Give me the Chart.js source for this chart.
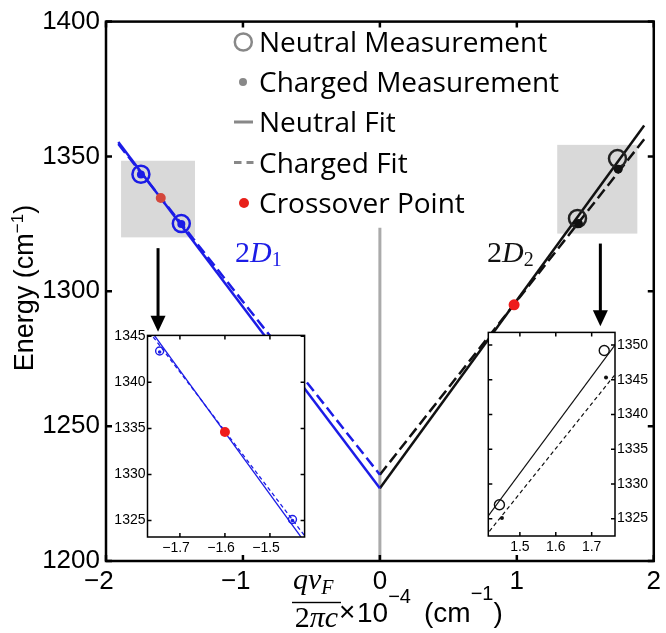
<!DOCTYPE html>
<html>
<head>
<meta charset="utf-8">
<script src="https://cdn.jsdelivr.net/npm/chart.js@4/dist/chart.umd.min.js"></script>
<style>
html, body { margin: 0; padding: 0; background: #fff; }
#wrap { position: relative; width: 666px; height: 633px; }
canvas { position: absolute; }
#mainChart { left: 0; top: 0; }
#insetLeft { left: 100px; top: 325px; }
#insetRight { left: 480px; top: 322px; }
</style>
</head>
<body>
<div id="wrap">
  <canvas id="mainChart" width="666" height="633"></canvas>
  <canvas id="insetLeft" width="210" height="240"></canvas>
  <canvas id="insetRight" width="186" height="240"></canvas>
</div>
<script>
// fit lines (end points), x in units of 1e-4 cm^-1, y in cm^-1
const neutralFitLeft = [{ x: -1.91, y: 1355.4 }, { x: 0, y: 1227 }];
const chargedFitLeft = [{ x: -1.91, y: 1354.6 }, { x: 0, y: 1232 }];
const neutralFitRight = [{ x: 0, y: 1227 }, { x: 1.93, y: 1361.5 }];
const chargedFitRight = [{ x: 0, y: 1232 }, { x: 1.94, y: 1357 }];

// measurements
const neutralMeasLeft = [{ x: -1.745, y: 1343.4 }, { x: -1.45, y: 1325.1 }];
const chargedMeasLeft = [{ x: -1.745, y: 1343.3 }, { x: -1.45, y: 1325.0 }];
const neutralMeasRight = [{ x: 1.443, y: 1327.0 }, { x: 1.735, y: 1349.2 }];
const chargedMeasRight = [{ x: 1.45, y: 1325.1 }, { x: 1.74, y: 1345.3 }];
const crossoverLeft = [{ x: -1.6, y: 1334.6 }];
const crossoverRight = [{ x: 0.98, y: 1295 }];

// annotations (data coordinates)
const zoomBoxes = [
    { x0: -1.89, x1: -1.35, y0: 1320, y1: 1348.4 },
    { x0: 1.295, x1: 1.88, y0: 1321.4, y1: 1354.3 }
];
const arrows = [
    { x: -1.62, y0: 1316, y1: 1285 },
    { x: 1.61, y0: 1317.7, y1: 1287 }
];
const zeroLine = { x: 0, y0: 1200, y1: 1323.6 };

// axes
const mainXRange = [-2, 2];
const mainYRange = [1200, 1400];
const mainXTicks = [-2, -1, 0, 1, 2];
const mainYTicks = [1200, 1250, 1300, 1350, 1400];
const leftInsetXRange = [-1.772, -1.423];
const leftInsetYRange = [1323.2, 1345.1];
const leftInsetXTicks = [-1.7, -1.6, -1.5];
const leftInsetYTicks = [1325, 1330, 1335, 1340, 1345];
const rightInsetXRange = [1.412, 1.765];
const rightInsetYRange = [1322.5, 1351.8];
const rightInsetXTicks = [1.5, 1.6, 1.7];
const rightInsetYTicks = [1325, 1330, 1335, 1340, 1345, 1350];

const legendLabels = ["Neutral Measurement", "Charged Measurement", "Neutral Fit", "Charged Fit", "Crossover Point"];

const BLUE = "#1c1ce6";
const BLACK = "#111";
const SANS = "Liberation Sans";
const SERIF = "Liberation Serif";

// MATLAB puts the minus sign to the left of a centred number
function minusLabel(v, digits) {
    const s = digits == null ? String(Math.abs(v)) : Math.abs(v).toFixed(digits);
    return v < 0 ? "\u2212" + s + "  " : s;
}

// box round the plot with inward ticks on all four sides
const boxPlugin = {
    id: "matlabBox",
    beforeDraw(chart, args, opts) {
        if (opts.fill) {
            const a = chart.chartArea;
            chart.ctx.save();
            chart.ctx.fillStyle = opts.fill;
            chart.ctx.fillRect(a.left, a.top, a.right - a.left, a.bottom - a.top);
            chart.ctx.restore();
        }
    },
    afterDraw(chart, args, opts) {
        const ctx = chart.ctx;
        const a = chart.chartArea;
        const len = opts.tickLen;
        ctx.save();
        ctx.strokeStyle = "#000";
        ctx.lineWidth = opts.lineWidth;
        ctx.beginPath();
        chart.scales.x.ticks.forEach(t => {
            const px = chart.scales.x.getPixelForValue(t.value);
            ctx.moveTo(px, a.bottom); ctx.lineTo(px, a.bottom - len);
            ctx.moveTo(px, a.top); ctx.lineTo(px, a.top + len);
        });
        chart.scales.y.ticks.forEach(t => {
            const py = chart.scales.y.getPixelForValue(t.value);
            ctx.moveTo(a.left, py); ctx.lineTo(a.left + len, py);
            ctx.moveTo(a.right, py); ctx.lineTo(a.right - len, py);
        });
        ctx.stroke();
        ctx.strokeRect(a.left, a.top, a.right - a.left, a.bottom - a.top);
        ctx.restore();
    }
};

function drawSegments(ctx, parts, x, y) {
    // parts: [text, font, dy]
    parts.forEach(p => {
        ctx.font = p[1];
        ctx.fillText(p[0], x, y + (p[2] || 0));
        x += ctx.measureText(p[0]).width;
    });
    return x;
}

function drawLegend(ctx) {
    const rows = [42, 82, 122, 162.5, 203];
    ctx.save();
    ctx.fillStyle = "#888";
    ctx.strokeStyle = "#888";
    ctx.lineWidth = 2.5;
    ctx.beginPath();
    ctx.arc(243.3, rows[0], 8.5, 0, Math.PI * 2);
    ctx.stroke();
    ctx.beginPath();
    ctx.arc(243, rows[1], 4, 0, Math.PI * 2);
    ctx.fill();
    ctx.lineWidth = 3;
    ctx.beginPath();
    ctx.moveTo(234, rows[2]); ctx.lineTo(253, rows[2]);
    ctx.moveTo(234, rows[3]); ctx.lineTo(241.5, rows[3]);
    ctx.moveTo(246.5, rows[3]); ctx.lineTo(253.5, rows[3]);
    ctx.stroke();
    ctx.fillStyle = "#e8201a";
    ctx.beginPath();
    ctx.arc(244, rows[4], 5, 0, Math.PI * 2);
    ctx.fill();

    ctx.fillStyle = "#000";
    ctx.font = '28px "Open Sans"';
    ctx.textBaseline = "alphabetic";
    ctx.textAlign = "left";
    legendLabels.forEach((label, i) => ctx.fillText(label, 259, rows[i] + 10));
    ctx.restore();
}

function drawAxisTitles(ctx) {
    ctx.save();
    ctx.fillStyle = "#000";
    ctx.textBaseline = "alphabetic";
    ctx.textAlign = "left";

    // y title, rotated
    const big = `27px "${SANS}"`;
    const small = `17px "${SANS}"`;
    const yParts = [["Energy (cm", big, 0], ["\u22121", small, -10], [")", big, 0]];
    let total = 0;
    yParts.forEach(p => { ctx.font = p[1]; total += ctx.measureText(p[0]).width; });
    ctx.translate(33, 288);
    ctx.rotate(-Math.PI / 2);
    drawSegments(ctx, yParts, -total / 2, 0);
    ctx.setTransform(1, 0, 0, 1, 0, 0);

    // x title: q v_F / 2 pi c  x 10^-4 (cm^-1)
    const it = `italic 30px "${SERIF}"`;
    drawSegments(ctx, [["qv", it, 0], ["F", `italic 20px "${SERIF}"`, 5]], 293, 589);
    ctx.fillRect(292, 601.8, 49, 1.4);
    const den = [["2", `30px "${SERIF}"`, 0], ["\u03c0c", it, 0]];
    let dw = 0;
    den.forEach(p => { ctx.font = p[1]; dw += ctx.measureText(p[0]).width; });
    drawSegments(ctx, den, 316.5 - dw / 2, 627);
    const xl = `28px "${SANS}"`;
    const xs = `20px "${SANS}"`;
    drawSegments(ctx, [["\u00d7", xl, 0]], 339, 621);
    drawSegments(ctx, [["10", xl, 0], ["\u22124", xs, -19]], 357, 622);
    drawSegments(ctx, [["(cm", xl, 0], ["\u22121", xs, -22], [")", xl, 0]], 424, 622);
    ctx.restore();
}

function drawMathLabel(ctx, x, y, sub, color) {
    ctx.save();
    ctx.fillStyle = color;
    ctx.textBaseline = "alphabetic";
    ctx.textAlign = "left";
    drawSegments(ctx, [
        ["2", `30px "${SERIF}"`, 0],
        ["D", `italic 30px "${SERIF}"`, 0],
        [sub, `20px "${SERIF}"`, 4]
    ], x, y);
    ctx.restore();
}

const mainDecor = {
    id: "mainDecor",
    beforeDatasetsDraw(chart) {
        const ctx = chart.ctx;
        const xs = chart.scales.x, ys = chart.scales.y;
        ctx.save();
        ctx.fillStyle = "#d9d9d9";
        zoomBoxes.forEach(b => {
            const l = xs.getPixelForValue(b.x0), r = xs.getPixelForValue(b.x1);
            const t = ys.getPixelForValue(b.y1), bt = ys.getPixelForValue(b.y0);
            ctx.fillRect(l, t, r - l, bt - t);
        });
        ctx.strokeStyle = "#aaa";
        ctx.lineWidth = 3;
        ctx.beginPath();
        ctx.moveTo(xs.getPixelForValue(zeroLine.x), ys.getPixelForValue(zeroLine.y0));
        ctx.lineTo(xs.getPixelForValue(zeroLine.x), ys.getPixelForValue(zeroLine.y1));
        ctx.stroke();
        ctx.restore();
    },
    afterDraw(chart) {
        const ctx = chart.ctx;
        const xs = chart.scales.x, ys = chart.scales.y;
        ctx.save();
        ctx.fillStyle = "#000";
        ctx.strokeStyle = "#000";
        arrows.forEach(ar => {
            const px = xs.getPixelForValue(ar.x);
            const p0 = ys.getPixelForValue(ar.y0), p1 = ys.getPixelForValue(ar.y1);
            ctx.lineWidth = 3;
            ctx.beginPath();
            ctx.moveTo(px, p0); ctx.lineTo(px, p1 - 14);
            ctx.stroke();
            ctx.beginPath();
            ctx.moveTo(px - 7.5, p1 - 16); ctx.lineTo(px + 7.5, p1 - 16); ctx.lineTo(px, p1);
            ctx.closePath();
            ctx.fill();
        });
        ctx.restore();
        drawMathLabel(ctx, 235, 261.5, "1", BLUE);
        drawMathLabel(ctx, 487, 261.5, "2", BLACK);
        drawLegend(ctx);
        drawAxisTitles(ctx);
    }
};

function fitSet(data, color, dash, width) {
    return { data, showLine: true, borderColor: color, borderWidth: width, borderDash: dash,
        pointRadius: 0, pointHoverRadius: 0, fill: false, clip: 0, order: 2 };
}
function openSet(data, color, r, width) {
    return { data, showLine: false, pointRadius: r, pointHoverRadius: r, pointBorderWidth: width,
        pointBorderColor: color, pointBackgroundColor: "rgba(255,255,255,0)", order: 1 };
}
function dotSet(data, color, r) {
    return { data, showLine: false, pointRadius: r, pointHoverRadius: r, pointBorderWidth: 0,
        pointBorderColor: color, pointBackgroundColor: color, order: 0 };
}

function axis(range, ticks, fmt, size, padding, fit, pos) {
    return {
        type: "linear", position: pos, min: range[0], max: range[1],
        afterBuildTicks: s => { s.ticks = ticks.map(v => ({ value: v })); },
        afterFit: fit,
        grid: { display: false, drawTicks: false },
        border: { display: false },
        ticks: { font: { family: SANS, size: size }, color: "#000", padding: padding,
            maxRotation: 0, autoSkip: false, callback: fmt }
    };
}

const baseOptions = {
    responsive: false,
    animation: false,
    events: [],
    plugins: { legend: { display: false }, tooltip: { enabled: false } }
};

new Chart(document.getElementById("mainChart"), {
    type: "scatter",
    data: {
        datasets: [
            fitSet(neutralFitLeft, BLUE, [], 2.5),
            fitSet(chargedFitLeft, BLUE, [11, 5], 2.5),
            fitSet(neutralFitRight, BLACK, [], 2.5),
            fitSet(chargedFitRight, BLACK, [11, 5], 2.5),
            openSet(neutralMeasLeft, BLUE, 8.5, 2.5),
            openSet(neutralMeasRight, "#222", 8.5, 2.5),
            dotSet(chargedMeasLeft, BLUE, 4),
            dotSet(chargedMeasRight, BLACK, 4.5),
            dotSet(crossoverLeft, "#d4473c", 5),
            dotSet(crossoverRight, "#ee1b1b", 5.5)
        ]
    },
    options: {
        ...baseOptions,
        layout: { padding: { top: 12, right: 11, left: 0, bottom: 0 } },
        scales: {
            x: axis(mainXRange, mainXTicks, v => minusLabel(v), 26, 5, s => { s.height = 72; }, "bottom"),
            y: axis(mainYRange, mainYTicks, v => String(v), 26, 6, s => { s.width = 106; }, "left")
        },
        plugins: { ...baseOptions.plugins, matlabBox: { lineWidth: 2.5, tickLen: 6 } }
    },
    plugins: [boxPlugin, mainDecor]
});

new Chart(document.getElementById("insetLeft"), {
    type: "scatter",
    data: {
        datasets: [
            fitSet(neutralFitLeft, BLUE, [], 1.3),
            fitSet(chargedFitLeft, BLUE, [4, 3], 1.3),
            openSet(neutralMeasLeft, BLUE, 4, 1.4),
            dotSet(chargedMeasLeft, BLUE, 1.8),
            dotSet(crossoverLeft, "#f01c1c", 5)
        ]
    },
    options: {
        ...baseOptions,
        layout: { padding: { top: 10, right: 4, left: 0, bottom: 0 } },
        scales: {
            x: axis(leftInsetXRange, leftInsetXTicks, v => minusLabel(v, 1), 14, 3, s => { s.height = 28; }, "bottom"),
            y: axis(leftInsetYRange, leftInsetYTicks, v => String(v), 14, 2, s => { s.width = 47.5; }, "left")
        },
        plugins: { ...baseOptions.plugins, matlabBox: { lineWidth: 1.5, tickLen: 4, fill: "#fff" } }
    },
    plugins: [boxPlugin]
});

new Chart(document.getElementById("insetRight"), {
    type: "scatter",
    data: {
        datasets: [
            fitSet(neutralFitRight, BLACK, [], 1.2),
            fitSet(chargedFitRight, BLACK, [4, 3], 1.2),
            openSet(neutralMeasRight, BLACK, 5, 1.4),
            dotSet(chargedMeasRight, BLACK, 2)
        ]
    },
    options: {
        ...baseOptions,
        layout: { padding: { top: 9.7, right: 0, left: 8.3, bottom: 0 } },
        scales: {
            x: axis(rightInsetXRange, rightInsetXTicks, v => v.toFixed(1), 14, 3, s => { s.height = 26; }, "bottom"),
            y: axis(rightInsetYRange, rightInsetYTicks, v => String(v), 14, 2, s => { s.width = 51; }, "right")
        },
        plugins: { ...baseOptions.plugins, matlabBox: { lineWidth: 1.5, tickLen: 4, fill: "#fff" } }
    },
    plugins: [boxPlugin]
});
</script>
</body>
</html>
